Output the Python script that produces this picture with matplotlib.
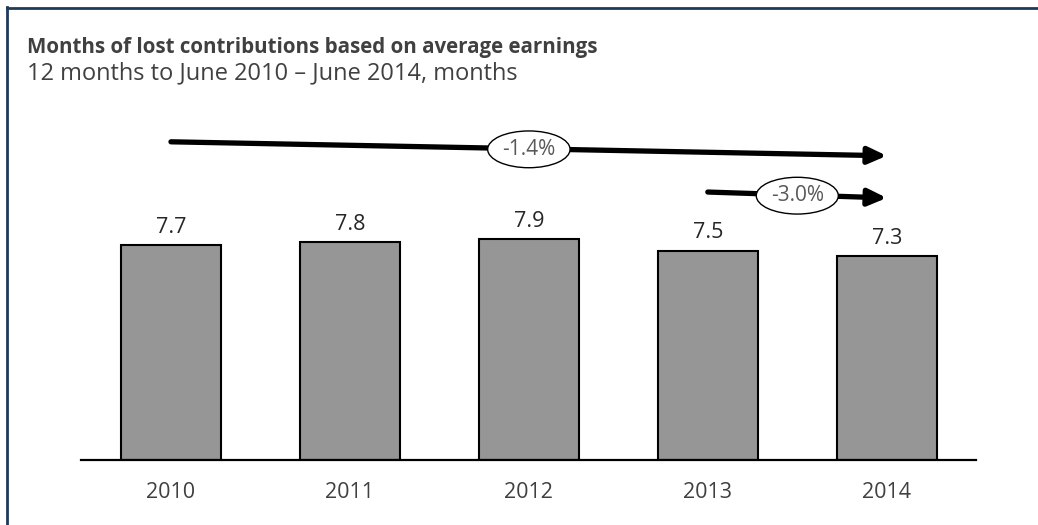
import matplotlib
matplotlib.use('Agg')
import matplotlib.pyplot as plt
from matplotlib.lines import Line2D

plt.rcParams['font.family'] = ['Open Sans', 'DejaVu Sans']

years = ['2010', '2011', '2012', '2013', '2014']
months = [7.7, 7.8, 7.9, 7.5, 7.3]
labels = ['7.7', '7.8', '7.9', '7.5', '7.3']
trend_long = '-1.4%'
trend_short = '-3.0%'

fig = plt.figure(figsize = (10.38, 5.25), dpi = 100)
ax = fig.add_axes([0.0785, 0.1238, 0.862, 0.638])

x = range(len(years))
ax.bar(x, months, width = 0.56, color = '#969696', edgecolor = 'black', linewidth = 1.5, zorder = 2)
for xi, v, lab in zip(x, months, labels):
 ax.annotate(lab, (xi, v), xytext = (0, 13), textcoords = 'offset points', ha = 'center', va = 'center',
  fontsize = 15.5, color = '#262626')

ax.set_xlim(-0.5, 4.5)
ax.set_ylim(0, 12)
ax.set_xticks(list(x))
ax.set_xticklabels(years, fontsize = 15.5, color = '#404040')
ax.tick_params(axis = 'x', length = 0, pad = 16)
ax.set_yticks([])
for s in ['top', 'right', 'left']:
 ax.spines[s].set_visible(False)
ax.spines['bottom'].set_linewidth(1.6)

# trend arrows
def trendArrow(x0, y0, x1, y1, text, tx, ty):
 ax.annotate('', xy = (x1, y1), xytext = (x0, y0),
  arrowprops = dict(arrowstyle = '-|>,head_length=1.1,head_width=0.5', lw = 3.8, color = 'black',
   shrinkA = 0, shrinkB = 0, mutation_scale = 10), annotation_clip = False)
 ax.text(tx, ty, text, ha = 'center', va = 'center', fontsize = 15, color = '#595959',
  bbox = dict(boxstyle = 'ellipse,pad=0.12', fc = 'white', ec = 'black', lw = 1.0), zorder = 5)

trendArrow(0.0, 11.4, 4.0, 10.9, trend_long, 2.0, 11.13)
trendArrow(3.0, 9.6, 4.0, 9.39, trend_short, 3.5, 9.47)

fig.text(27 / 1038, 1 - 47 / 525, 'Months of lost contributions based on average earnings', fontsize = 14.8,
 fontweight = 'bold', color = '#404040', va = 'center')
fig.text(27 / 1038, 1 - 73 / 525, '12 months to June 2010 \u2013 June 2014, months', fontsize = 17,
 color = '#404040', va = 'center')

# frame lines
navy = '#1f3a5a'
fig.add_artist(Line2D([7 / 1038, 1], [1 - 7.5 / 525, 1 - 7.5 / 525], color = navy, lw = 2, transform = fig.transFigure))
fig.add_artist(Line2D([7 / 1038, 7 / 1038], [0, 1 - 6.5 / 525], color = navy, lw = 2, transform = fig.transFigure))

fig.savefig('out.png', dpi = 100)
